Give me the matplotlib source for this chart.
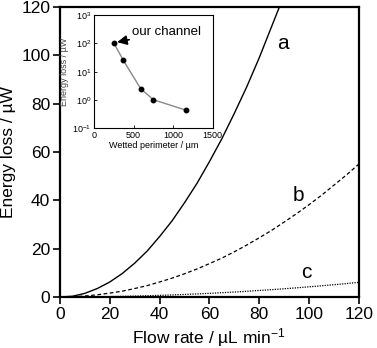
import numpy as np
import matplotlib
matplotlib.use("Agg")
import matplotlib.pyplot as plt
from matplotlib.ticker import NullLocator

plt.rcParams['font.family'] = ['Liberation Sans', 'DejaVu Sans']
plt.rcParams['mathtext.default'] = 'regular'

# main plot: energy loss vs flow rate
flow = [0, 5, 10, 15, 20, 25, 30, 35, 40, 45, 50, 55, 60,
        65, 70, 75, 80, 85, 90, 95, 100, 105, 110, 115, 120]
loss_a = [0, 0.3, 1.5, 3.5, 6.2, 9.7, 14, 19, 25, 31.5, 39, 47, 56,
          65.5, 76, 87, 99, 112, 125, 139, 155, 171, 188, 205, 224]
loss_b = [0, 0.1, 0.4, 0.9, 1.6, 2.4, 3.5, 4.7, 6.2, 7.8, 9.6, 11.6, 13.8,
          16.1, 18.7, 21.5, 24.5, 27.6, 31, 34.5, 38.2, 42.1, 46.3, 50.5, 55]
loss_c = [0, 0.01, 0.04, 0.09, 0.17, 0.26, 0.38, 0.51, 0.67, 0.85, 1.05, 1.27, 1.5,
          1.77, 2.05, 2.36, 2.69, 3.03, 3.4, 3.79, 4.2, 4.63, 5.08, 5.55, 6.05]

# inset: energy loss vs wetted perimeter
perimeter = [253, 371, 590, 750, 1159]
inset_loss = [100, 25, 2.5, 1.02, 0.44]

fig = plt.figure(figsize=(3.77, 3.48), dpi=100)
ax = fig.add_axes([0.159, 0.1466, 0.793, 0.8333])

ax.plot(flow, loss_a, color='black', lw=1.0, ls='-')
ax.plot(flow, loss_b, color='black', lw=0.9, ls=(0, (3, 2)))
ax.plot(flow, loss_c, color='black', lw=0.9, ls=(0, (1, 1)))

ax.text(89.6, 105, 'a', fontsize=15, ha='center', va='center')
ax.text(95.6, 42, 'b', fontsize=15, ha='center', va='center')
ax.text(99, 10, 'c', fontsize=15, ha='center', va='center')

ax.set_xlim(0, 120)
ax.set_ylim(0, 120)
ax.set_xticks(np.arange(0, 121, 20))
ax.set_yticks(np.arange(0, 121, 20))
ax.tick_params(direction='out', length=5, width=1.2, labelsize=12.5, pad=2)
for sp in ax.spines.values():
    sp.set_linewidth(1.6)
ax.set_xlabel(r'Flow rate / µL min$^{-1}$', fontsize=12.5, labelpad=3)
ax.set_ylabel('Energy loss / µW', fontsize=12.5, labelpad=4)

# inset
ins = fig.add_axes([0.2493, 0.6313, 0.3149, 0.3256])
ins.plot(perimeter, inset_loss, color='#888888', lw=1.0, zorder=1)
ins.plot(perimeter, inset_loss, 'o', color='black', ms=3.2, zorder=2)
ins.set_yscale('log')
ins.set_xlim(0, 1500)
ins.set_ylim(0.1, 1000)
ins.set_xticks([0, 500, 1000, 1500])
ins.yaxis.set_minor_locator(NullLocator())
ins.tick_params(direction='in', length=2.5, width=0.6, labelsize=6.5, pad=2)
for sp in ins.spines.values():
    sp.set_linewidth(0.8)
ins.set_xlabel('Wetted perimeter / µm', fontsize=6.5, labelpad=1)
ins.set_ylabel('Energy loss / µW', fontsize=6.5, labelpad=2, color='#444444')
ins.annotate('our channel', xy=(perimeter[0] + 40, inset_loss[0] * 1.1),
             xytext=(480, 250), fontsize=9.5, va='center', ha='left',
             arrowprops=dict(arrowstyle='-|>,head_length=0.6,head_width=0.3',
                             color='black', lw=1.2, shrinkA=0, shrinkB=0))

fig.savefig('out.png', dpi=100)
